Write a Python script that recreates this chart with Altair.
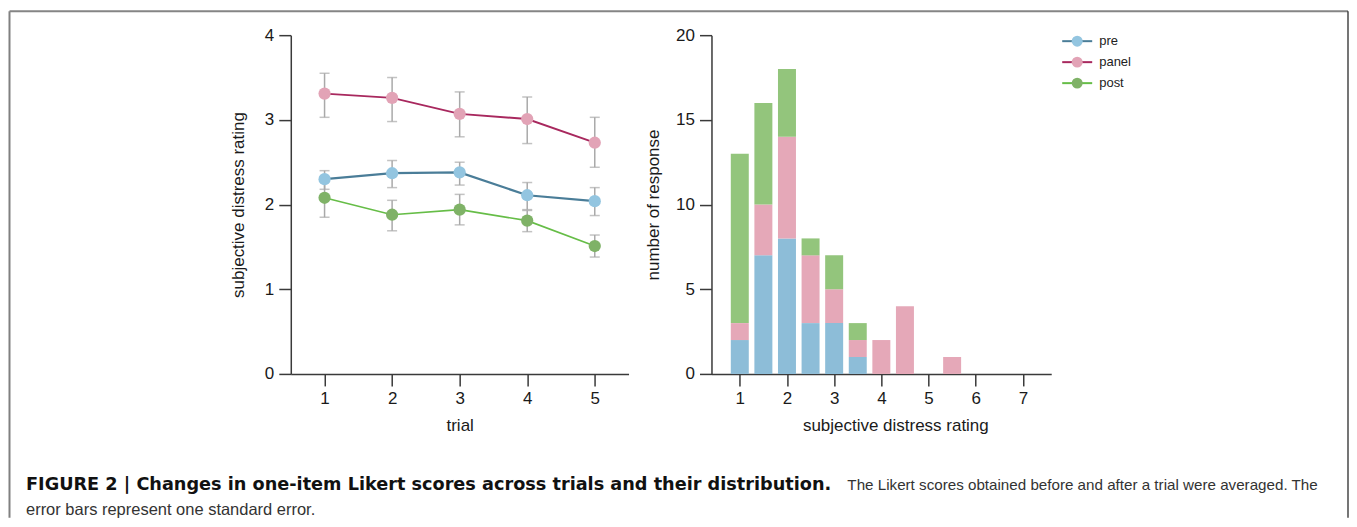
import altair as alt
import pandas as pd

# ---------------- data ----------------
series = ["pre", "panel", "post"]
trials = [1, 2, 3, 4, 5]

pre_mean = [2.30, 2.37, 2.38, 2.11, 2.04]
pre_low = [2.18, 2.20, 2.23, 1.94, 1.87]
pre_high = [2.40, 2.52, 2.50, 2.26, 2.20]

panel_mean = [3.31, 3.26, 3.07, 3.01, 2.73]
panel_low = [3.03, 2.98, 2.80, 2.72, 2.44]
panel_high = [3.55, 3.50, 3.33, 3.27, 3.03]

post_mean = [2.08, 1.88, 1.94, 1.81, 1.51]
post_low = [1.85, 1.69, 1.76, 1.68, 1.38]
post_high = [2.31, 2.05, 2.12, 1.93, 1.64]

ratings = [1, 1.5, 2, 2.5, 3, 3.5, 4, 4.5, 5.5]
pre_counts = [2, 7, 8, 3, 3, 1, 0, 0, 0]
panel_counts = [1, 3, 6, 4, 2, 1, 2, 4, 1]
post_counts = [10, 6, 4, 1, 2, 1, 0, 0, 0]

trial_ticks = [1, 2, 3, 4, 5]
rating_ticks = [1, 2, 3, 4, 5, 6, 7]
left_y_ticks = [0, 1, 2, 3, 4]
right_y_ticks = [0, 5, 10, 15, 20]

caption_bold = "FIGURE 2 | Changes in one-item Likert scores across trials and their distribution."
caption_rest1 = "The Likert scores obtained before and after a trial were averaged. The"
caption_rest2 = "error bars represent one standard error."

# ---------------- styles ----------------
line_colors = ["#4a7d98", "#a8285e", "#66bd47"]
point_colors = ["#93c5e0", "#e2a3b6", "#7fb267"]
bar_colors = ["#8dbdd8", "#e5a8b8", "#93c57c"]
err_color = "#a9a9a9"
FONT = "Liberation Sans"

# ---------------- tables ----------------
rows = []
for s, m, lo, hi in zip(series,
                        [pre_mean, panel_mean, post_mean],
                        [pre_low, panel_low, post_low],
                        [pre_high, panel_high, post_high]):
    for i, t in enumerate(trials):
        rows.append(dict(series=s, trial=t, mean=m[i], low=lo[i], high=hi[i]))
trend = pd.DataFrame(rows)

hrows = []
for k, (s, counts) in enumerate(zip(series, [pre_counts, panel_counts, post_counts])):
    for r, c in zip(ratings, counts):
        if c > 0:
            hrows.append(dict(series=s, sidx=k, rating=r, count=c))
hist = pd.DataFrame(hrows)

legend_df = pd.DataFrame({"series": series, "idx": list(range(len(series)))})
one = pd.DataFrame({"a": [0]})

# ---------------- left panel ----------------
xL = alt.X("trial:Q", scale=alt.Scale(domain=[0.5, 5.5], nice=False, zero=False),
           axis=alt.Axis(values=trial_ticks, format="d", titlePadding=11), title="trial")
YT = "subjective distress rating"
yscaleL = alt.Scale(domain=[0, 4], nice=False)
yaxL = alt.Axis(values=left_y_ticks, format="d", titlePadding=17)

stroke_enc = alt.Stroke("series:N", scale=alt.Scale(domain=series, range=line_colors), legend=None)
fill_enc = alt.Fill("series:N", scale=alt.Scale(domain=series, range=point_colors), legend=None)

base = alt.Chart(trend)
err = base.mark_rule(color=err_color, strokeWidth=1.5).encode(
    x=xL, y=alt.Y("low:Q", scale=yscaleL, axis=yaxL, title=YT), y2="high:Q")
cap_lo = base.mark_tick(color=err_color, orient="horizontal", size=10, thickness=1.5).encode(
    x=xL, y=alt.Y("low:Q", scale=yscaleL, axis=yaxL, title=YT))
cap_hi = base.mark_tick(color=err_color, orient="horizontal", size=10, thickness=1.5).encode(
    x=xL, y=alt.Y("high:Q", scale=yscaleL, axis=yaxL, title=YT))
lines = base.mark_line().encode(
    x=xL, y=alt.Y("mean:Q", scale=yscaleL, axis=yaxL, title=YT), stroke=stroke_enc,
    strokeWidth=alt.StrokeWidth("series:N", scale=alt.Scale(domain=series, range=[2.2, 1.6, 2.2]), legend=None))
points = base.mark_circle(size=150, opacity=1).encode(
    x=xL, y=alt.Y("mean:Q", scale=yscaleL, axis=yaxL, title=YT), fill=fill_enc)

# frame and caption (drawn in the left panel's pixel space, page origin = (290, 35))
fb = alt.Chart(one)
frame_left = fb.mark_rule(color="#808080", strokeWidth=2).encode(
    x=alt.value(-281.5), y=alt.value(-24), y2=alt.value(483))
frame_top = fb.mark_rule(color="#858585", strokeWidth=2).encode(
    x=alt.value(-281.5), x2=alt.value(1058), y=alt.value(-24))
frame_right = fb.mark_rule(color="#1a1a1a", strokeWidth=1.2).encode(
    x=alt.value(1058), y=alt.value(-24), y2=alt.value(483))
cap1 = fb.mark_text(align="left", baseline="alphabetic", font="DejaVu Sans", fontSize=17.7,
                    fontWeight="bold", color="#111111").encode(
    x=alt.value(-265), y=alt.value(455), text=alt.value(caption_bold))
cap2 = fb.mark_text(align="left", baseline="alphabetic", font=FONT, fontSize=15.2,
                    color="#333333").encode(
    x=alt.value(557), y=alt.value(455), text=alt.value(caption_rest1))
cap3 = fb.mark_text(align="left", baseline="alphabetic", font=FONT, fontSize=16.5,
                    color="#333333").encode(
    x=alt.value(-265), y=alt.value(480), text=alt.value(caption_rest2))

left = alt.layer(err, cap_lo, cap_hi, lines, points,
                 frame_left, frame_top, frame_right, cap1, cap2, cap3).properties(width=338, height=339)

# empty spacer between the two panels
spacer = alt.Chart(one).mark_point(opacity=0).encode(
    x=alt.value(0), y=alt.value(0)).properties(width=65, height=339)

# ---------------- right panel ----------------
bars = alt.Chart(hist).mark_bar(size=18, orient="vertical").encode(
    x=alt.X("rating:Q", scale=alt.Scale(domain=[0.4, 7.6], nice=False, zero=False, padding=0),
            axis=alt.Axis(values=rating_ticks, format="d", titlePadding=11, titleX=184),
            title="subjective distress rating"),
    y=alt.Y("count:Q", stack="zero", scale=alt.Scale(domain=[0, 20], nice=False),
            axis=alt.Axis(values=right_y_ticks, format="d", titlePadding=13),
            title="number of response"),
    color=alt.Color("series:N", scale=alt.Scale(domain=series, range=bar_colors), legend=None),
    order=alt.Order("sidx:Q", sort="ascending"),
).properties(width=340, height=339)

# ---------------- legend panel ----------------
ly = alt.Y("idx:Q", scale=alt.Scale(domain=[0, 2], range=[6, 48]), axis=None)
lb = alt.Chart(legend_df)
leg_line = lb.mark_rule(strokeWidth=2).encode(
    x=alt.value(2), x2=alt.value(32), y=ly,
    stroke=alt.Stroke("series:N", scale=alt.Scale(domain=series, range=line_colors), legend=None))
leg_pt = lb.mark_circle(size=120, opacity=1).encode(
    x=alt.value(17), y=ly,
    fill=alt.Fill("series:N", scale=alt.Scale(domain=series, range=point_colors), legend=None))
leg_txt = lb.mark_text(align="left", baseline="middle", font=FONT, fontSize=13, color="#222222").encode(
    x=alt.value(39), y=ly, text="series:N")
legend = alt.layer(leg_line, leg_pt, leg_txt).properties(width=80, height=339)

chart = alt.hconcat(left, spacer, bars, legend, spacing=9, bounds="flush").resolve_scale(
    stroke="independent", fill="independent"
).properties(
    padding={"left": 0, "top": 2, "right": 0, "bottom": 0}
).configure_view(stroke=None).configure_axis(
    domainColor="#3a3a3a", domainWidth=1.5, tickColor="#3a3a3a", tickWidth=1.5, tickSize=12,
    labelFont=FONT, labelFontSize=17, labelColor="#1a1a1a", labelPadding=5,
    titleFont=FONT, titleFontSize=17, titleFontWeight="normal", titleColor="#1a1a1a",
    grid=False,
)

chart.save("out.html", embed_options={"renderer": "svg", "actions": False})
